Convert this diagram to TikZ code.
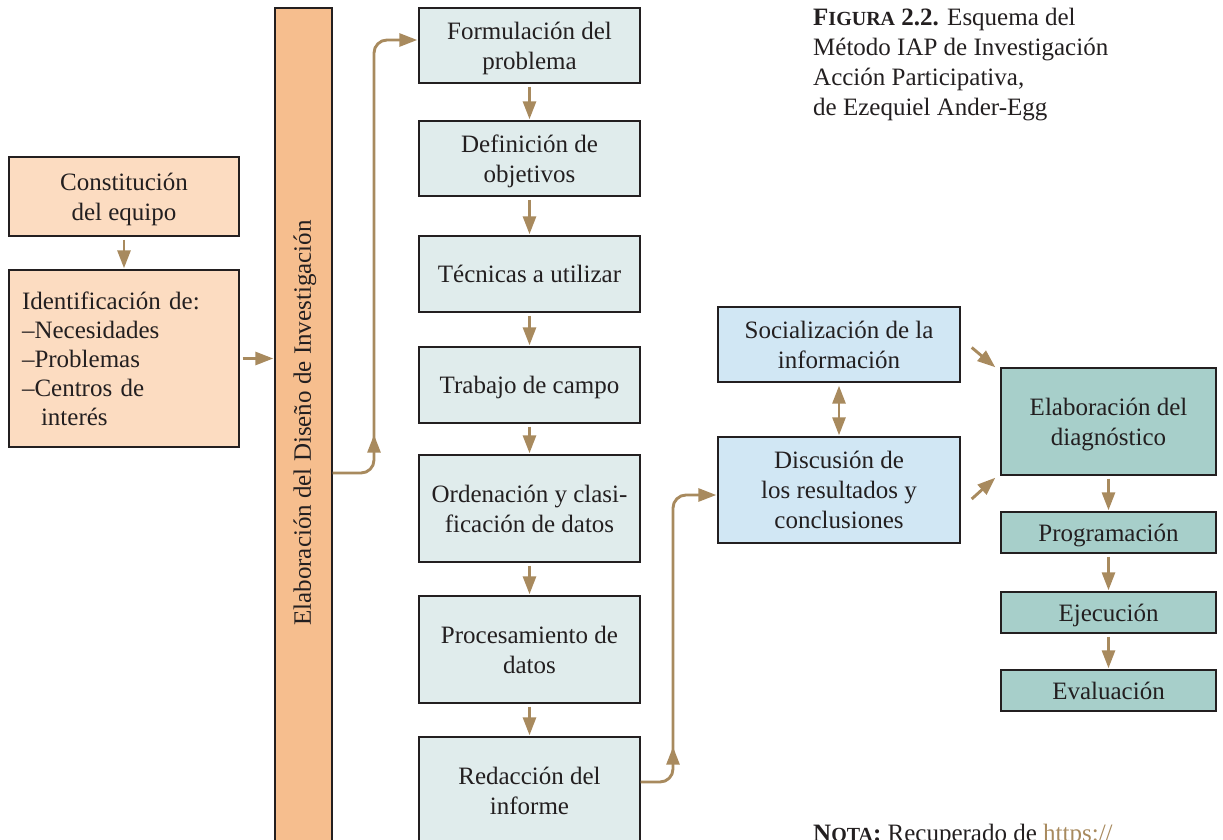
\documentclass[tikz,border=0pt]{standalone}
\usepackage{fontspec}
\setmainfont{Liberation Serif}
\usetikzlibrary{arrows.meta,decorations.markings,calc}
\definecolor{arr}{HTML}{A88A5E}
\definecolor{peach}{HTML}{FCDCC1}
\definecolor{barc}{HTML}{F6BE8E}
\definecolor{gbox}{HTML}{E0ECEC}
\definecolor{bbox}{HTML}{D1E7F4}
\definecolor{tbox}{HTML}{A7CFCA}
\definecolor{edge}{HTML}{231F20}
\tikzset{
  plainbox/.style={draw=edge, line width=1.4pt, inner sep=0pt, text=edge,
    font=\fontsize{25}{30}\selectfont},
  box/.style={plainbox, align=center, text depth=0pt},
  tip/.style={-{Triangle[length=18pt,width=13pt]}},
  conn/.style={color=arr, line width=2.9pt, tip, shorten <=3pt, shorten >=1pt},
  midtip/.style={postaction={decorate, decoration={markings,
      mark=at position #1 with {\arrow{Triangle[length=18pt,width=13pt]}}}}},
}
\begin{document}
\begin{tikzpicture}[x=1pt,y=-1pt]
\useasboundingbox (0,0) rectangle (1223,840);
% left column
\node[box, fill=peach, minimum width=230pt, minimum height=79pt] (cons) at (124,196.5) {Constitución\\del equipo};
\node[plainbox, fill=peach, minimum width=230pt, minimum height=177pt, align=left, text width=204pt, inner xsep=13pt,
  font=\fontsize{25}{29}\selectfont] (ident) at (124,358.5)
  {Identificación de:\\–Necesidades\\–Problemas\\–Centros de\\\hspace*{19pt}interés};
% bar
\node[box, fill=barc, minimum width=57pt, minimum height=852pt] (bar) at (303.5,434) {};
\node[rotate=90, inner sep=0pt, text=edge, font=\fontsize{25}{30}\selectfont] (bartxt) at (305,423)
  {Elaboración del Diseño de Investigación};
% center column
\tikzset{cbox/.style={box, fill=gbox, minimum width=221pt}}
\node[cbox, minimum height=75pt] (form) at (529.5,45.5) {Formulación del\\problema};
\node[cbox, minimum height=75pt] (def) at (529.5,158.5) {Definición de\\objetivos};
\node[cbox, minimum height=76pt] (tec) at (529.5,274) {Técnicas a utilizar};
\node[cbox, minimum height=76pt] (trab) at (529.5,385) {Trabajo de campo};
\node[cbox, minimum height=107pt] (ord) at (529.5,508.5) {Ordenación y clasi-\\ficación de datos};
\node[cbox, minimum height=107pt] (proc) at (529.5,649.5) {Procesamiento de\\datos};
\node[cbox, minimum height=107pt] (red) at (529.5,790.5) {Redacción del\\informe};
% blue
\tikzset{bbx/.style={box, fill=bbox, minimum width=242pt}}
\node[bbx, minimum height=75pt] (soc) at (839,344.5) {Socialización de la\\información};
\node[bbx, minimum height=106pt] (disc) at (839,490) {Discusión de\\los resultados y\\conclusiones};
% teal
\tikzset{tbx/.style={box, fill=tbox, minimum width=215pt}}
\node[tbx, minimum height=107pt] (diag) at (1108.5,421.5) {Elaboración del\\diagnóstico};
\node[tbx, minimum height=41pt] (prog) at (1108.5,532.5) {Programación};
\node[tbx, minimum height=41pt] (ejec) at (1108.5,612.5) {Ejecución};
\node[tbx, minimum height=41pt] (eval) at (1108.5,690.5) {Evaluación};
% captions
\node[anchor=north west, inner sep=0pt, align=left, text=edge, font=\fontsize{25}{30}\selectfont] (cap) at (813,8)
  {\textbf{F{\fontsize{20}{30}\selectfont IGURA} 2.2.} Esquema del\\Método IAP de Investigación\\Acción Participativa,\\de Ezequiel Ander-Egg};
\node[anchor=base west, inner sep=0pt, text=edge, font=\fontsize{25}{30}\selectfont] (nota) at (813,841)
  {\textbf{N{\fontsize{20}{30}\selectfont OTA}:} Recuperado de \textcolor{arr}{https://}};
% connectors
\draw[conn] (cons) -- (ident);
\draw[conn] (ident.east) -- (bar.west |- ident.east);
\draw[conn] (form) -- (def);
\draw[conn] (def) -- (tec);
\draw[conn] (tec) -- (trab);
\draw[conn] (trab) -- (ord);
\draw[conn] (ord) -- (proc);
\draw[conn] (proc) -- (red);
\draw[conn, shorten <=0pt, rounded corners=13pt, midtip=74pt] (bar.east |- 0,473) -- (374,473) -- (374,40) -- (form.west |- 0,40);
\draw[conn, shorten <=0pt, rounded corners=13pt, midtip=62pt] (red.east |- 0,782) -- (673,782) -- (673,495) -- (disc.west |- 0,495);
\draw[conn, {Triangle[length=18pt,width=13pt]}-{Triangle[length=18pt,width=13pt]}] (soc) -- (disc);
\draw[conn, shorten <=0pt, shorten >=0pt] ([xshift=11pt,yshift=-3pt]soc.east) -- ([xshift=-5pt]diag.north west);
\draw[conn, shorten <=0pt, shorten >=0pt] ([xshift=11pt,yshift=-9pt]disc.east) -- ([xshift=-5pt,yshift=-2pt]diag.south west);
\draw[conn] (diag) -- (prog);
\draw[conn] (prog) -- (ejec);
\draw[conn] (ejec) -- (eval);
\end{tikzpicture}
\end{document}
